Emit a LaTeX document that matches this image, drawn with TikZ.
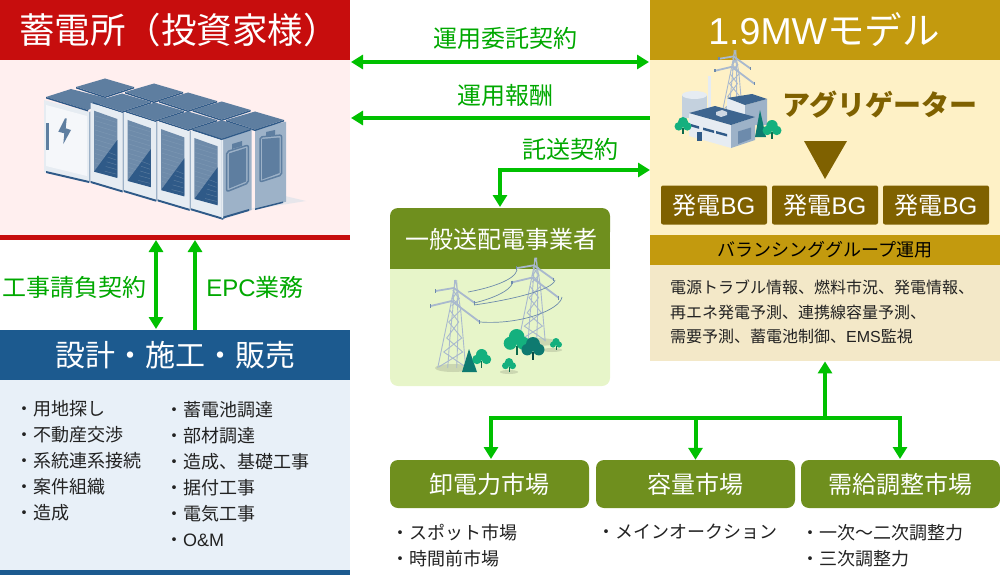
\documentclass[tikz,border=0pt]{standalone}
\usepackage{fontspec}
\setmainfont{Noto Sans CJK JP}
\newfontfamily\latf{Liberation Sans}
\newcommand{\lat}[1]{{\latf #1}}
\usetikzlibrary{arrows.meta}
\definecolor{cred}{HTML}{C70D0D}
\definecolor{cpink}{HTML}{FFEFEF}
\definecolor{cblue}{HTML}{1C5A8F}
\definecolor{cbluel}{HTML}{E8F0F8}
\definecolor{cgold}{HTML}{C39A0E}
\definecolor{ccream}{HTML}{FEF1C6}
\definecolor{cbrown}{HTML}{7F6100}
\definecolor{cbeige}{HTML}{F3E8C8}
\definecolor{colive}{HTML}{6F8F1E}
\definecolor{cgreenl}{HTML}{E7F5C9}
\definecolor{carrow}{HTML}{00C000}
\definecolor{clabel}{HTML}{00A800}
\definecolor{ctxt}{HTML}{222222}
\definecolor{croof}{HTML}{5E7EA0}
\definecolor{cside}{HTML}{9DB2C8}
\definecolor{cface}{HTML}{E6ECF2}
\definecolor{cdark}{HTML}{2F5A88}
\definecolor{ctower}{HTML}{A9B9CE}
\definecolor{ctree}{HTML}{14B07E}
\definecolor{ctreed}{HTML}{0E7A70}
\tikzset{
 panel/.style={draw=none,inner sep=0,anchor=north west},
 title/.style={text=white,font=\fontsize{35.5}{37}\selectfont},
 link/.style={draw=carrow,line width=4pt,-{Triangle[length=12pt,width=14pt]}},
 linkb/.style={draw=carrow,line width=4pt,{Triangle[length=12pt,width=14pt]}-{Triangle[length=12pt,width=14pt]}},
 label/.style={text=clabel,font=\fontsize{24}{26}\selectfont},
 body/.style={text=ctxt,font=\fontsize{18}{26}\selectfont,align=left,anchor=north west,inner sep=0},
 market/.style={fill=colive,rounded corners=8pt,text=white,minimum width=199pt,minimum height=48pt,inner sep=0,font=\fontsize{24}{26}\selectfont},
 bg/.style={fill=cbrown,rounded corners=2pt,text=white,minimum width=106pt,minimum height=39pt,inner sep=0,font=\fontsize{24}{26}\selectfont},
}
\newcommand{\plate}[2]{%
 \fill[cdark] (#1-29,#2) -- (#1,#2+9.5) -- (#1+29,#2) -- (#1+29,#2+1.5) -- (#1,#2+11) -- (#1-29,#2+1.5) -- cycle;
 \fill[croof] (#1-29,#2) -- (#1,#2-8.5) -- (#1+29,#2) -- (#1,#2+9.5) -- cycle;}
\newcommand{\cabinet}[2]{%
 \fill[cface] (#1,#2) -- ++(32,10) -- ++(0,79) -- ++(-32,-9.5) -- cycle;
 \fill[cside] (#1+32,#2+10) -- ++(1.5,-.5) -- ++(0,79) -- ++(-1.5,.5) -- cycle;
 \fill[croof!90!white] (#1+3.3,#2+7.7) -- ++(23.3,8.3) -- ++(0,58) -- ++(-23.3,-6.3) -- cycle;
 \foreach \k in {1,...,12}{\draw[cside!50!croof,line width=.4pt] (#1+4.3,#2+8.2+4.7*\k) -- ++(21.3,6.5);}
 \fill[cdark] (#1+3.3,#2+68.7) -- (#1+26.6,#2+37) -- (#1+26.6,#2+75) -- cycle;
 \foreach \k in {8,...,12}{\draw[croof,line width=.4pt] (#1+18-\k+8,#2+8.2+4.7*\k+3.6) -- (#1+25.6,#2+8.2+4.7*\k+6.5);}
 \fill[cdark] (#1,#2+78) -- ++(32,9.5) -- ++(0,2) -- ++(-32,-9.5) -- cycle;}
\newcommand{\tower}[3]{% x, y top, scale
 \begin{scope}[shift={(#1,#2)},scale=#3,draw=ctower,line width=.9pt]
  \draw (0,0) -- (-6,30) -- (-18,88) (0,0) -- (5,30) -- (10,88);
  \draw (-1,0) -- (-3,30) -- (-6,60) -- (-8,88);
  \draw (1,0) -- (2,30) -- (2,60) -- (1,88);
  \draw (-6,30) -- (3,42) -- (-9,58) -- (7,72) -- (-17,87) (5,30) -- (-7,42) -- (6,58) -- (-12,72) -- (10,87);
  \draw (-3,10) -- (3,18) (3,10) -- (-3,18) (-4,18) -- (4,26) (4,18) -- (-4,26);
  \draw[line width=1.8pt] (-20,11) -- (-2,8) -- (19,23) (-25,26) -- (-4,21) -- (24,42);
  \draw[cdark!70,line width=1.2pt] (-20,9) -- (-20,13) (19,21) -- (19,25) (-25,24) -- (-25,28) (24,40) -- (24,44);
 \end{scope}}
\newcommand{\btree}[4]{% x,y base, scale, colour
 \begin{scope}[shift={(#1,#2)},scale=#3]
  \fill[#4!60!black] (-.7,0) rectangle (.7,-7);
  \fill[#4] (0,-14) circle (6) (-5,-9) circle (5) (5,-9) circle (5);
 \end{scope}}
\begin{document}
\begin{tikzpicture}[x=1pt,y=-1pt]
\useasboundingbox (0,0) rectangle (1000,575);
% left column
\node[panel,fill=cred,minimum width=350pt,minimum height=60pt] (invhead) at (0,0) {};
\node[title] (invtitle) at (179,30) {蓄電所（投資家様）};
\node[panel,fill=cpink,minimum width=350pt,minimum height=175pt] (invbody) at (0,60) {};
\node[panel,fill=cred,minimum width=350pt,minimum height=5pt] (invbar) at (0,235) {};
% battery cabinets
\fill[cside!40,opacity=.6] (250,210) -- (306,201) -- (285,196) -- (225,219) -- cycle;
\fill[cside] (255,128.3) -- (286,121.7) -- (286,201.7) -- (255,209.3) -- cycle;
\fill[cdark] (255,208.5) -- (283,201.5) -- (283,203) -- (255,210) -- cycle;
\plate{105}{87}
\plate{154}{92}
\plate{188}{101}
\plate{221.7}{110}
\plate{255}{120}
\fill[cface] (44,100) -- (89,112) -- (89,182) -- (44,172) -- cycle;
\fill[white!60!cface] (46,105) -- (87,116) -- (87,176) -- (46,166) -- cycle;
\fill[cside] (89,112) -- (90.7,111.5) -- (90.7,182) -- (89,182.5) -- cycle;
\fill[cdark] (46,171) -- (89,181) -- (89,183) -- (46,173) -- cycle;
\fill[croof] (45.7,123.3) rectangle (49.3,150);
\fill[croof] (65,118.3) -- (58.3,131.7) -- (64.3,133.3) -- (63.3,144) -- (71,130) -- (65.7,128.3) -- (66.7,118.3) -- cycle;
\fill[croof] (46,97) -- (71,89) -- (110,99) -- (88,110) -- cycle;
\fill[cdark] (46,97) -- (88,110) -- (88,111.5) -- (46,98.5) -- cycle;
\plate{122}{102}
\plate{155}{111}
\cabinet{90.7}{103}
\plate{188}{120}
\cabinet{124.2}{112.2}
\plate{221.7}{129}
\cabinet{157.7}{121.4}
\cabinet{191}{130.3}
\fill[cside] (221.7,138.3) -- (251.7,129.3) -- (251.7,210) -- (221.7,218.3) -- cycle;
\fill[cdark] (221.7,217) -- (249,209) -- (249,211) -- (221.7,219) -- cycle;
\fill[cface] (221.7,138.3) -- (223,138) -- (223,218) -- (221.7,218.3) -- cycle;
\plate{221.7}{129}
\draw[croof,line width=1.5pt,rounded corners=2pt] (226.7,151.7) -- (248.3,145) -- (248.3,183) -- (226.7,191.7) -- cycle;
\fill[croof] (229,153.5) -- (246,148) -- (246,181.5) -- (229,188.5) -- cycle;
\fill[croof] (232,144) -- (242,141) -- (242,146) -- (232,149) -- cycle;
\draw[croof,line width=1.5pt,rounded corners=2pt] (260,137) -- (281.7,135) -- (281.7,175) -- (260,182) -- cycle;
\fill[croof] (262,139) -- (279.5,137.5) -- (279.5,173) -- (262,179.5) -- cycle;
\fill[croof] (266,132) -- (275,130) -- (275,135) -- (266,136.5) -- cycle;
% design panel
\node[panel,fill=cblue,minimum width=350pt,minimum height=50pt] (dshead) at (0,330) {};
\node[text=white,font=\fontsize{30}{32}\selectfont] (dstitle) at (175,355) {設計・施工・販売};
\node[panel,fill=cbluel,minimum width=350pt,minimum height=190pt] (dsbody) at (0,380) {};
\node[panel,fill=cblue,minimum width=350pt,minimum height=5pt] (dsbar) at (0,570) {};
\coordinate (a1t) at (156,240); \coordinate (a1b) at (156,329);
\coordinate (a2t) at (195,240); \coordinate (a2b) at (195,330);
\draw[linkb] (a1t) -- (a1b);
\draw[link] (a2b) -- (a2t);
\node[label] (l1text) at (74,287) {工事請負契約};
\node[label] (l2text) at (255,287) {\lat{EPC}業務};
\node[body] (ds1) at (15,400) {・用地探し\\・不動産交渉\\・系統連系接続\\・案件組織\\・造成};
\node[body] (ds2) at (165,401) {・蓄電池調達\\・部材調達\\・造成、基礎工事\\・据付工事\\・電気工事\\・\lat{O\&M}};
% right column
\node[panel,fill=cgold,minimum width=350pt,minimum height=60pt] (mwhead) at (650,0) {};
\node[text=white,font=\fontsize{37.5}{39}\selectfont] (mwtitle) at (824,30) {\lat{1.9MW}モデル};
\node[panel,fill=ccream,minimum width=350pt,minimum height=176pt] (mwbody) at (650,60) {};
\node[panel,fill=cgold,minimum width=350pt,minimum height=30pt] (bghead) at (650,235) {};
\node[text=black,font=\fontsize{18}{20}\selectfont] (bgtitle) at (825,250) {バランシンググループ運用};
\node[panel,fill=cbeige,minimum width=350pt,minimum height=96pt] (bgbody) at (650,265) {};
\node[body,font=\fontsize{16}{24.5}\selectfont] (bgtext) at (670,280) {電源トラブル情報、燃料市況、発電情報、\\再エネ発電予測、連携線容量予測、\\需要予測、蓄電池制御、\lat{EMS}監視};
\node[text=cbrown,font=\fontsize{28}{30}\selectfont\bfseries] (agg) at (880,105) {アグリゲーター};
\fill[cbrown] (804,141) -- (847,141) -- (825,179) -- cycle;
\node[bg] (bg1) at (714,205) {発電\lat{BG}};
\node[bg] (bg2) at (825,205) {発電\lat{BG}};
\node[bg] (bg3) at (936,205) {発電\lat{BG}};
% factory
\tower{735}{50}{.8}
\fill[cface] (708,76) rectangle (711,110);
\fill[cside!60] (682,95) rectangle (707,118);
\fill[cface] (682,95) arc (180:360:12.5 and 4) arc (0:180:12.5 and 4) -- cycle;
\fill[cface] (727,98) -- (745,105) -- (745,125) -- (727,118) -- cycle;
\fill[cside] (745,105) -- (767,99) -- (767,125) -- (745,125) -- cycle;
\fill[cdark!70!croof] (727,98) -- (752,94) -- (767,99) -- (745,105) -- cycle;
\fill[cface] (689,113) -- (731,125) -- (731,148) -- (689,136) -- cycle;
\fill[cside] (731,125) -- (755,117) -- (755,140) -- (731,148) -- cycle;
\fill[cdark!70!croof] (689,113) -- (715,106) -- (755,117) -- (731,125) -- cycle;
\fill[cside!50] (716,112) -- (722,110) -- (727,112) -- (727,115) -- (721,117) -- (716,115) -- cycle;
\fill[cdark] (691,124) -- (699,126.3) -- (699,128.8) -- (691,126.5) -- cycle
  (703,127.5) -- (714,130.5) -- (714,133) -- (703,130) -- cycle
  (716,131) -- (727,134) -- (727,136.5) -- (716,133.5) -- cycle;
\fill[cdark] (697,132) rectangle (702,141);
\fill[cdark!70] (738,131.5) -- (751,127.5) -- (751,139) -- (738,144) -- cycle;
\btree{683}{134}{.85}{ctree}
\fill[ctreed] (760,110) -- (766,137) -- (755,137) -- cycle;
\btree{772}{139}{.95}{ctree}
% centre
\fill[cgreenl,rounded corners=8pt] (390,230) rectangle (610,386);
\fill[colive,rounded corners=8pt] (390,208) rectangle (610,240);
\fill[colive] (390,225) rectangle (610,269);
\node[text=white,font=\fontsize{24}{26}\selectfont] (gridt) at (501,239) {一般送配電事業者};
\fill[cgreenl!88!black] (453,368) ellipse (18 and 4) (536,342) ellipse (22 and 4) (552,350) ellipse (10 and 2) (509,372) ellipse (9 and 2);
\tower{535.7}{257.7}{.95}
\tower{455.7}{280}{1}
\draw[cdark!70,line width=.7pt] (468,292) .. controls (490,288) and (515,280) .. (517,270);
\draw[cdark!70,line width=.7pt] (474,305) .. controls (510,300) and (553,290) .. (555,280);
\draw[cdark!70,line width=.7pt] (474,303) .. controls (495,298) and (510,290) .. (512,284);
\draw[cdark!70,line width=.7pt] (480,322) .. controls (520,325) and (560,310) .. (562,297);
\btree{516.7}{355}{1.3}{ctree}
\btree{533}{360}{1.15}{ctreed}
\btree{556}{350}{.6}{ctree}
\fill[ctreed] (469,349) -- (477,372) -- (462,372) -- cycle;
\btree{481.7}{368}{.95}{ctree}
\btree{509}{372}{.7}{ctree}
% top arrows
\coordinate (l1) at (351,62); \coordinate (r1) at (649,62);
\coordinate (l2) at (351,118); \coordinate (r2) at (650,118);
\coordinate (c3) at (500,207); \coordinate (r3) at (650,170);
\draw[linkb] (l1) -- (r1);
\draw[link] (r2) -- (l2);
\draw[linkb] (c3) -- (500,170) -- (r3);
\node[label] (t1) at (505,38) {運用委託契約};
\node[label] (t2) at (505,95) {運用報酬};
\node[label] (t3) at (570,149) {託送契約};
% markets
\node[market] (m1) at (489.5,484) {卸電力市場};
\node[market] (m2) at (695.5,484) {容量市場};
\node[market] (m3) at (900.5,484) {需給調整市場};
\coordinate (busjoin) at (825,418);
\draw[link] (busjoin) -- (bgbody.south -| busjoin);
\draw[link] (busjoin) -- (491,418) -- (491,459);
\draw[link] (busjoin) -- (900,418) -- (900,459);
\draw[link] (695.5,418) -- (m2.north);
\node[body] (mt1) at (391,524) {・スポット市場\\・時間前市場};
\node[body] (mt2) at (597,524) {・メインオークション};
\node[body] (mt3) at (801,524) {・一次〜二次調整力\\・三次調整力};
\end{tikzpicture}
\end{document}
